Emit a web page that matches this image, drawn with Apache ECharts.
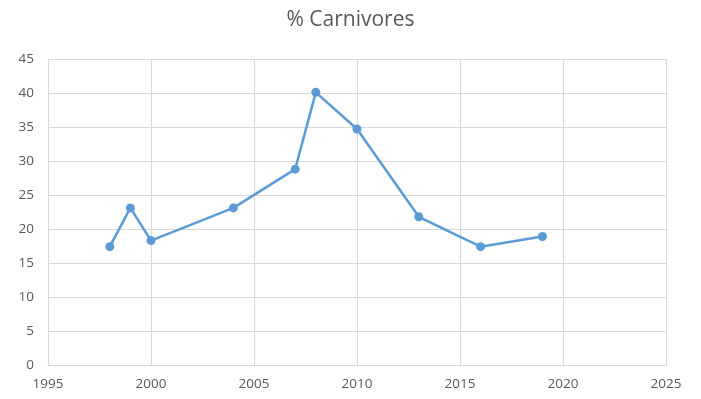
<!DOCTYPE html>
<html><head><meta charset="utf-8">
<script src="https://cdn.jsdelivr.net/npm/echarts@6/dist/echarts.min.js"></script>
<style>html,body{margin:0;padding:0;background:#fff}#c{width:701px;height:399px}</style>
</head><body><div id="c"></div>
<script>
const years = [1998, 1999, 2000, 2004, 2007, 2008, 2010, 2013, 2016, 2019];
const carnivores = [17.4, 23.1, 18.3, 23.1, 28.8, 40.1, 34.7, 21.8, 17.4, 18.9];
const titleText = '% Carnivores';

const chart = echarts.init(document.getElementById('c'));
chart.setOption({
  animation: false,
  backgroundColor: '#ffffff',
  title: {
    text: titleText, left: 'center', top: 5,
    textStyle: { fontFamily: 'Open Sans', fontSize: 21, fontWeight: 'normal', color: '#595959' }
  },
  grid: { left: 48, right: 35, top: 59, bottom: 34 },
  xAxis: {
    type: 'value', min: 1995, max: 2025, interval: 5,
    axisLine: { show: true, lineStyle: { color: '#d9d9d9', width: 1 } },
    axisTick: { show: false },
    splitLine: { show: true, lineStyle: { color: '#d9d9d9', width: 1 } },
    axisLabel: { color: '#595959', fontFamily: 'Open Sans', fontSize: 13.5, margin: 12, formatter: v => String(v) }
  },
  yAxis: {
    type: 'value', min: 0, max: 45, interval: 5,
    axisLine: { show: false },
    axisTick: { show: false },
    splitLine: { show: true, lineStyle: { color: '#d9d9d9', width: 1 } },
    axisLabel: { color: '#595959', fontFamily: 'Open Sans', fontSize: 13.5, margin: 14 }
  },
  series: [{
    type: 'line',
    data: years.map((y, i) => [y, carnivores[i]]),
    symbol: 'circle', symbolSize: 9,
    lineStyle: { color: '#5b9bd5', width: 2.5 },
    itemStyle: { color: '#5b9bd5' }
  }]
});
</script></body></html>
